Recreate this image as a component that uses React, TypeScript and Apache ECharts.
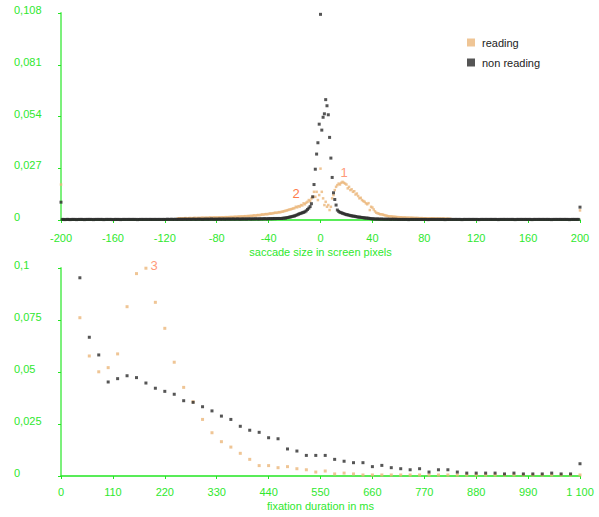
import React, { useEffect, useRef } from "react";
import * as echarts from "echarts";

// ---------- top chart: saccade size (x in screen pixels) ----------
const saccadeTicks = [-200, -160, -120, -80, -40, 0, 40, 80, 120, 160, 200];
const saccadeYTicks = [0, 0.027, 0.054, 0.081, 0.108];

// non reading, left tail starting at x = -200
const nonReadingLeftStart = -200;
const nonReadingLeft = [
  0.0093,
  0.0003, 0.0003, 0.0002, 0.0003, 0.0003, 0.0003, 0.0002, 0.0003, 0.0003, 0.0003,
  0.0003, 0.0002, 0.0003, 0.0003, 0.0003, 0.0003, 0.0003, 0.0002, 0.0003, 0.0003,
  0.0003, 0.0003, 0.0003, 0.0003, 0.0002, 0.0003, 0.0003, 0.0003, 0.0003, 0.0003,
  0.0003, 0.0003, 0.0002, 0.0003, 0.0003, 0.0003, 0.0003, 0.0003, 0.0003, 0.0002,
  0.0003, 0.0003, 0.0003, 0.0003, 0.0003, 0.0002, 0.0003, 0.0003, 0.0003, 0.0003,
  0.0003, 0.0003, 0.0003, 0.0003, 0.0003, 0.0003, 0.0003, 0.0003, 0.0002, 0.0003,
  0.0003, 0.0003, 0.0003, 0.0003, 0.0003, 0.0003, 0.0003, 0.0003, 0.0003, 0.0003,
  0.0003, 0.0003, 0.0003, 0.0003, 0.0003, 0.0003, 0.0003, 0.0003, 0.0003, 0.0003,
  0.0003, 0.0004, 0.0003, 0.0003, 0.0004, 0.0003, 0.0003, 0.0004, 0.0003, 0.0003,
  0.0004, 0.0003, 0.0004, 0.0003, 0.0004, 0.0004, 0.0003, 0.0004, 0.0004, 0.0003,
  0.0004, 0.0004, 0.0004, 0.0003, 0.0004, 0.0004, 0.0004, 0.0004, 0.0003, 0.0004,
  0.0004, 0.0004, 0.0004, 0.0004, 0.0004, 0.0005, 0.0004, 0.0004, 0.0004, 0.0004,
  0.0004, 0.0005, 0.0004, 0.0004, 0.0005, 0.0004, 0.0004, 0.0005, 0.0004, 0.0005,
  0.0004, 0.0005, 0.0005, 0.0004, 0.0005, 0.0005, 0.0005, 0.0004, 0.0005, 0.0005,
  0.0005, 0.0005, 0.0005, 0.0005, 0.0006, 0.0005, 0.0005, 0.0006, 0.0005, 0.0006,
  0.0006, 0.0005, 0.0006, 0.0006, 0.0006, 0.0006, 0.0007, 0.0006, 0.0006, 0.0007,
  0.0007, 0.0007, 0.0007, 0.0008, 0.0007, 0.0008, 0.0008, 0.0008, 0.0008,
];

// non reading, central part starting at x = -30
const nonReadingCenterStart = -30;
const nonReadingCenter = [
  0.0008, 0.0009, 0.0010, 0.0010, 0.0012, 0.0013, 0.0015, 0.0016, 0.0018, 0.0020,
  0.0021, 0.0024, 0.0027, 0.0030, 0.0033, 0.0035, 0.0038, 0.0040, 0.0043, 0.0048,
  0.0055, 0.0062, 0.0070, 0.0085, 0.0121, 0.0185, 0.0265, 0.0344, 0.0403, 0.0500,
  0.1073, 0.0469, 0.0536, 0.0554, 0.0628, 0.0596, 0.0549, 0.0431, 0.0323, 0.0222,
  0.0142, 0.0107, 0.0078, 0.0052, 0.0045, 0.0040, 0.0038, 0.0035, 0.0033, 0.0030,
  0.0028, 0.0027, 0.0025, 0.0023, 0.0022, 0.0020, 0.0020, 0.0018, 0.0017, 0.0015,
  0.0015, 0.0014, 0.0013, 0.0012, 0.0011, 0.0010, 0.0010, 0.0009, 0.0008, 0.0007,
  0.0006,
];

// non reading, right tail ending at x = 200
const nonReadingRightEnd = 200;
const nonReadingRight = [
  0.0006, 0.0005, 0.0005, 0.0005, 0.0005, 0.0004, 0.0005, 0.0004, 0.0004, 0.0004,
  0.0004, 0.0004, 0.0004, 0.0003, 0.0004, 0.0004, 0.0003, 0.0004, 0.0003, 0.0003,
  0.0003, 0.0003, 0.0003, 0.0003, 0.0003, 0.0003, 0.0003, 0.0002, 0.0003, 0.0003,
  0.0003, 0.0003, 0.0003, 0.0003, 0.0003, 0.0003, 0.0003, 0.0003, 0.0003, 0.0003,
  0.0003, 0.0003, 0.0002, 0.0003, 0.0003, 0.0003, 0.0003, 0.0003, 0.0003, 0.0003,
  0.0003, 0.0003, 0.0003, 0.0003, 0.0003, 0.0002, 0.0003, 0.0003, 0.0003, 0.0003,
  0.0003, 0.0003, 0.0003, 0.0003, 0.0003, 0.0003, 0.0003, 0.0003, 0.0002, 0.0003,
  0.0003, 0.0003, 0.0003, 0.0003, 0.0003, 0.0003, 0.0003, 0.0003, 0.0003, 0.0003,
  0.0003, 0.0002, 0.0003, 0.0003, 0.0003, 0.0003, 0.0003, 0.0003, 0.0003, 0.0003,
  0.0003, 0.0003, 0.0003, 0.0003, 0.0003, 0.0003, 0.0002, 0.0003, 0.0003, 0.0003,
  0.0003, 0.0003, 0.0003, 0.0003, 0.0003, 0.0003, 0.0003, 0.0003, 0.0003, 0.0002,
  0.0003, 0.0003, 0.0003, 0.0003, 0.0003, 0.0003, 0.0003, 0.0003, 0.0003, 0.0003,
  0.0003, 0.0003, 0.0002, 0.0003, 0.0003, 0.0003, 0.0003, 0.0003, 0.0003, 0.0003,
  0.0003, 0.0003, 0.0003, 0.0003, 0.0003, 0.0003, 0.0003, 0.0002, 0.0003, 0.0003,
  0.0003, 0.0003, 0.0003, 0.0003, 0.0003, 0.0003, 0.0003, 0.0003, 0.0003, 0.0003,
  0.0003, 0.0002, 0.0003, 0.0003, 0.0003, 0.0003, 0.0003, 0.0003, 0.0003,
  0.0067,
];

// reading, starting at x = -110
const readingStart = -110;
const reading = [
  0.0008, 0.0009, 0.0008, 0.0009, 0.0008, 0.0009, 0.0010, 0.0009, 0.0009, 0.0010,
  0.0010, 0.0009, 0.0010, 0.0011, 0.0010, 0.0010, 0.0011, 0.0010, 0.0011, 0.0012,
  0.0011, 0.0011, 0.0012, 0.0011, 0.0012, 0.0013, 0.0012, 0.0012, 0.0013, 0.0013,
  0.0013, 0.0012, 0.0014, 0.0013, 0.0014, 0.0013, 0.0014, 0.0015, 0.0014, 0.0015,
  0.0015, 0.0016, 0.0015, 0.0016, 0.0017, 0.0016, 0.0017, 0.0018, 0.0017, 0.0019,
  0.0018, 0.0019, 0.0020, 0.0019, 0.0021, 0.0020, 0.0022, 0.0021, 0.0023, 0.0024,
  0.0023, 0.0025, 0.0026, 0.0025, 0.0027, 0.0029, 0.0028, 0.0030, 0.0031, 0.0030,
  0.0032, 0.0034, 0.0033, 0.0035, 0.0036, 0.0038, 0.0037, 0.0039, 0.0041, 0.0040,
  0.0043, 0.0044, 0.0046, 0.0048, 0.0050, 0.0052, 0.0054, 0.0056, 0.0058, 0.0060,
  0.0062, 0.0069, 0.0066, 0.0072, 0.0070, 0.0078, 0.0076, 0.0087, 0.0082, 0.0090,
  0.0095, 0.0104, 0.0098, 0.0112, 0.0121, 0.0147, 0.0121, 0.0147, 0.0104, 0.0130,
  0.0268, 0.0147, 0.0113, 0.0078, 0.0095, 0.0069, 0.0078, 0.0052, 0.0069, 0.0113,
  0.0130, 0.0156, 0.0173, 0.0182, 0.0190, 0.0185, 0.0194, 0.0199, 0.0194, 0.0190,
  0.0185, 0.0165, 0.0173, 0.0156, 0.0160, 0.0147, 0.0150, 0.0133, 0.0138, 0.0125,
  0.0113, 0.0116, 0.0104, 0.0099, 0.0095, 0.0087, 0.0082, 0.0088, 0.0052, 0.0069,
  0.0065, 0.0055, 0.0045, 0.0038, 0.0035, 0.0033, 0.0030, 0.0030, 0.0028, 0.0026,
  0.0024, 0.0022, 0.0020, 0.0019, 0.0019, 0.0018, 0.0017, 0.0017, 0.0016, 0.0015,
  0.0015, 0.0014, 0.0014, 0.0013, 0.0013, 0.0013, 0.0012, 0.0012, 0.0012, 0.0011,
  0.0012, 0.0011, 0.0011, 0.0010, 0.0011, 0.0010, 0.0010, 0.0009, 0.0010, 0.0009,
  0.0009, 0.0009, 0.0008, 0.0009, 0.0008, 0.0008, 0.0009, 0.0008, 0.0008, 0.0007,
  0.0008, 0.0007, 0.0008, 0.0007, 0.0007, 0.0008, 0.0007, 0.0006, 0.0007, 0.0006,
  0.0006,
];
// reading, overflow bins at the edges
const readingEdgeX = [-200, 200];
const readingEdgeY = [0.0185, 0.005];

// ---------- bottom chart: fixation duration (ms) ----------
const fixationTicks = [0, 110, 220, 330, 440, 550, 660, 770, 880, 990, 1100];
const fixationYTicks = [0, 0.025, 0.05, 0.075, 0.1];
const fixationX = [
  40, 60, 80, 100, 120, 140, 160, 180, 200, 220,
  240, 260, 280, 300, 320, 340, 360, 380, 400, 420,
  440, 460, 480, 500, 520, 540, 560, 580, 600, 620,
  640, 660, 680, 700, 720, 740, 760, 780, 800, 820,
  840, 860, 880, 900, 920, 940, 960, 980, 1000, 1020,
  1040, 1060, 1080, 1100,
];
const fixationNonReading = [
  0.0953, 0.0667, 0.0582, 0.0452, 0.0468, 0.0482, 0.0473, 0.0447, 0.0422, 0.0407,
  0.0393, 0.0362, 0.0354, 0.0333, 0.0313, 0.0288, 0.0272, 0.0239, 0.0220, 0.0210,
  0.0184, 0.0179, 0.0130, 0.0120, 0.0099, 0.0099, 0.0099, 0.0080, 0.0071, 0.0064,
  0.0064, 0.0045, 0.0051, 0.0040, 0.0035, 0.0030, 0.0035, 0.0019, 0.0030, 0.0030,
  0.0019, 0.0014, 0.0014, 0.0014, 0.0014, 0.0010, 0.0014, 0.0010, 0.0010, 0.0010,
  0.0014, 0.0010, 0.0010, 0.0059,
];
const fixationReading = [
  0.0761, 0.0577, 0.0501, 0.0521, 0.0587, 0.0814, 0.0973, 0.0999, 0.0835, 0.0710,
  0.0547, 0.0426, 0.0357, 0.0272, 0.0208, 0.0165, 0.0139, 0.0109, 0.0080, 0.0050,
  0.0050, 0.0040, 0.0045, 0.0035, 0.0030, 0.0019, 0.0024, 0.0010, 0.0014, 0.0010,
  0.0005, 0.0005, 0.0005, 0.0005, 0.0005, 0.0005, 0.0005, 0.0005, 0.0005, 0.0005,
  0.0005, 0.0005, 0.0005, 0.0005, 0.0005, 0.0005, 0.0005, 0.0005, 0.0005, 0.0005,
  0.0005, 0.0005, 0.0005, 0.0005,
];

const seriesNames = ["reading", "non reading"];
const annotations = [
  { text: "1", x: 344, y: 172, color: "#ff9a7a" },
  { text: "2", x: 296, y: 193, color: "#ff7a4a" },
  { text: "3", x: 154, y: 265, color: "#ff9a7a" },
];

const READING_COLOR = "#ebb67a";
const NON_READING_COLOR = "#2a2a2a";
const GREEN_TEXT = "#2ee82e";
const GREEN_AXIS = "#7cf07c";
const GREEN_LINE = "#22e622";
const FONT = "'Liberation Sans', Arial, sans-serif";

function commaNum(v: number): string {
  return String(v).replace(".", ",");
}
function thousands(v: number): string {
  return v >= 1000 ? String(v).replace(/(\d)(?=(\d{3})+$)/g, "$1 ") : String(v);
}

export default function App() {
  const ref = useRef<HTMLDivElement>(null);
  useEffect(() => {
    if (!ref.current) return;
    const chart = echarts.init(ref.current, null, { renderer: "svg" });

    const nonReadingTop: number[][] = [];
    nonReadingLeft.forEach((v, i) => nonReadingTop.push([nonReadingLeftStart + i, v]));
    nonReadingCenter.forEach((v, i) => nonReadingTop.push([nonReadingCenterStart + i, v]));
    const rStart = nonReadingRightEnd - nonReadingRight.length + 1;
    nonReadingRight.forEach((v, i) => nonReadingTop.push([rStart + i, v]));

    const readingTop: number[][] = reading.map((v, i) => [readingStart + i, v]);
    readingEdgeX.forEach((x, i) => readingTop.push([x, readingEdgeY[i]]));

    const readingBottom = fixationX.map((x, i) => [x, fixationReading[i]]);
    const nonReadingBottom = fixationX.map((x, i) => [x, fixationNonReading[i]]);

    const yAxisCommon = (ticks: number[]) => ({
      type: "value" as const,
      min: ticks[0],
      max: ticks[ticks.length - 1],
      interval: ticks[1] - ticks[0],
      axisLine: { show: true, onZero: false, lineStyle: { color: GREEN_AXIS, width: 2 } },
      axisTick: { show: true, length: 3, lineStyle: { color: GREEN_LINE } },
      splitLine: { show: false },
      axisLabel: {
        color: GREEN_TEXT,
        fontSize: 11,
        fontFamily: FONT,
        align: "left" as const,
        verticalAlign: "bottom" as const,
        lineHeight: 6,
        margin: 47,
        formatter: (v: number) => commaNum(v),
      },
    });

    const xAxisCommon = (ticks: number[], name: string, margin: number, nameGap: number, fmt: (v: number) => string) => ({
      type: "value" as const,
      min: ticks[0],
      max: ticks[ticks.length - 1],
      interval: ticks[1] - ticks[0],
      name,
      nameLocation: "middle" as const,
      nameGap,
      nameTextStyle: { color: GREEN_TEXT, fontSize: 11, fontFamily: FONT },
      axisLine: { show: true, onZero: false, lineStyle: { color: GREEN_LINE, width: 1.5 } },
      axisTick: { show: true, length: 3, lineStyle: { color: GREEN_LINE } },
      splitLine: { show: false },
      axisLabel: { color: GREEN_TEXT, fontSize: 11, fontFamily: FONT, margin, formatter: fmt },
    });

    chart.setOption({
      animation: false,
      backgroundColor: "#ffffff",
      legend: {
        data: seriesNames,
        orient: "vertical",
        left: 467,
        top: 37,
        padding: 0,
        itemWidth: 8,
        itemHeight: 8,
        itemGap: 9,
        icon: "rect",
        textStyle: { color: "#222222", fontSize: 11, fontFamily: FONT, padding: [0, 0, 0, 2] },
      },
      grid: [
        { left: 61, right: 19, top: 13, height: 207, containLabel: false },
        { left: 61, right: 19, top: 268, height: 208, containLabel: false },
      ],
      xAxis: [
        { ...xAxisCommon(saccadeTicks, "saccade size in screen pixels", 12, 26, (v: number) => String(v)), gridIndex: 0 },
        { ...xAxisCommon(fixationTicks, "fixation duration in ms", 10, 24, thousands), gridIndex: 1 },
      ],
      yAxis: [
        { ...yAxisCommon(saccadeYTicks), gridIndex: 0 },
        { ...yAxisCommon(fixationYTicks), gridIndex: 1 },
      ],
      graphic: annotations.map((a) => ({
        type: "text",
        x: a.x,
        y: a.y,
        style: {
          text: a.text,
          fill: a.color,
          fontSize: 13,
          fontFamily: FONT,
          align: "center",
          verticalAlign: "middle",
        },
      })),
      series: [
        {
          name: "reading",
          type: "scatter",
          xAxisIndex: 0,
          yAxisIndex: 0,
          symbol: "rect",
          symbolSize: 2.5,
          itemStyle: { color: READING_COLOR },
          data: readingTop,
        },
        {
          name: "non reading",
          type: "scatter",
          xAxisIndex: 0,
          yAxisIndex: 0,
          symbol: "rect",
          symbolSize: 3,
          itemStyle: { color: NON_READING_COLOR },
          data: nonReadingTop,
        },
        {
          name: "reading",
          type: "scatter",
          xAxisIndex: 1,
          yAxisIndex: 1,
          symbol: "rect",
          symbolSize: 3,
          itemStyle: { color: READING_COLOR },
          data: readingBottom,
        },
        {
          name: "non reading",
          type: "scatter",
          xAxisIndex: 1,
          yAxisIndex: 1,
          symbol: "rect",
          symbolSize: 3,
          itemStyle: { color: NON_READING_COLOR },
          data: nonReadingBottom,
        },
      ],
    });
    return () => chart.dispose();
  }, []);

  return (
    <div
      ref={ref}
      style={{ position: "fixed", left: 0, top: 0, width: 599, height: 517, background: "#fff" }}
    />
  );
}
